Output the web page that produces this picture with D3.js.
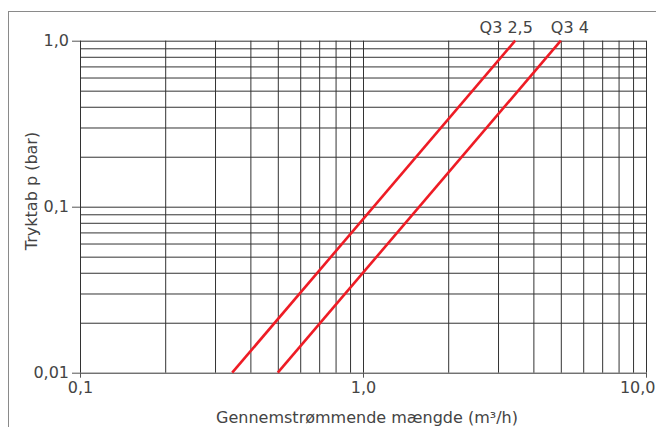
<!DOCTYPE html>
<html>
<head>
<meta charset="utf-8">
<script src="https://cdn.jsdelivr.net/npm/d3@7"></script>
<style>
  body { margin: 0; background: #fff; }
  svg { display: block; font-family: "DejaVu Sans", sans-serif; }
  .grid line { stroke: #333; stroke-width: 1; }
  .grid path { display: none; }
  .axis path { display: none; }
  .axis line { stroke: #555; }
  .axis text { fill: #444; font-size: 16px; font-family: "DejaVu Sans", sans-serif; }
</style>
</head>
<body>
<svg id="chart" width="656" height="427"></svg>
<script>
// data
const seriesNames = ["Q3 2,5", "Q3 4"];
const q3_25 = [[0.345, 0.01], [3.45, 1.0]];
const q3_4 = [[0.5, 0.01], [5.0, 1.0]];
const seriesData = [q3_25, q3_4];

const xGridValues = [0.1, 0.2, 0.3, 0.4, 0.5, 0.6, 0.7, 0.8, 0.9, 1, 2, 3, 4, 5, 6, 7, 8, 9, 10];
const yGridValues = [0.01, 0.02, 0.03, 0.04, 0.05, 0.06, 0.07, 0.08, 0.09,
  0.1, 0.2, 0.3, 0.4, 0.5, 0.6, 0.7, 0.8, 0.9, 1];
const xTickValues = [0.1, 1, 10];
const xTickLabels = ["0,1", "1,0", "10,0"];
const yTickValues = [0.01, 0.1, 1];
const yTickLabels = ["0,01", "0,1", "1,0"];

const xTitle = "Gennemstrømmende mængde (m³/h)";
const yTitle = "Tryktab p (bar)";

// layout
const svg = d3.select("#chart");
const margin = { top: 40.7, left: 80, right: 10, bottom: 54.3 };
const width = 656 - margin.left - margin.right;   // 566
const height = 427 - margin.top - margin.bottom;  // 332

// outer frame (runs off the right / bottom edge)
svg.append("rect")
  .attr("x", 8.5)
  .attr("y", 11.5)
  .attr("width", 700)
  .attr("height", 500)
  .attr("fill", "none")
  .attr("stroke", "#8a8a8a")
  .attr("stroke-width", 1);

const g = svg.append("g")
  .attr("transform", `translate(${margin.left},${margin.top})`);

const x = d3.scaleLog().domain([0.1, 10]).range([0, width]);
const y = d3.scaleLog().domain([0.01, 1]).range([height, 0]);

// grid
g.append("g")
  .attr("class", "grid")
  .attr("transform", `translate(0,${height})`)
  .call(d3.axisBottom(x).tickValues(xGridValues).tickSize(-height).tickFormat(""));

g.append("g")
  .attr("class", "grid")
  .call(d3.axisLeft(y).tickValues(yGridValues).tickSize(-width).tickFormat(""));

// axes
g.append("g")
  .attr("class", "axis")
  .attr("transform", `translate(0,${height})`)
  .call(d3.axisBottom(x)
    .tickValues(xTickValues)
    .tickSize(5)
    .tickPadding(4)
    .tickFormat((d, i) => xTickLabels[i]))
  .selectAll("text")
  .filter((d, i) => i === xTickValues.length - 1)
  .attr("text-anchor", "end")
  .attr("dx", 9);

g.append("g")
  .attr("class", "axis")
  .call(d3.axisLeft(y)
    .tickValues(yTickValues)
    .tickSize(8)
    .tickPadding(3)
    .tickFormat((d, i) => yTickLabels[i]));

// lines
const line = d3.line()
  .x(d => x(d[0]))
  .y(d => y(d[1]));

g.selectAll(".series")
  .data(seriesData)
  .join("path")
  .attr("class", "series")
  .attr("d", line)
  .attr("fill", "none")
  .attr("stroke", "#ee1c25")
  .attr("stroke-width", 2.6);

// series labels above the top end
g.selectAll(".series-label")
  .data(seriesData)
  .join("text")
  .attr("class", "series-label")
  .attr("x", (d, i) => x(d[d.length - 1][0]) + (i === 0 ? -9 : 9))
  .attr("y", -8)
  .attr("text-anchor", "middle")
  .attr("font-size", "16px")
  .attr("fill", "#444")
  .text((d, i) => seriesNames[i]);

// axis titles
g.append("text")
  .attr("x", width / 2 + 4)
  .attr("y", height + 50)
  .attr("text-anchor", "middle")
  .attr("font-size", "16px")
  .attr("fill", "#444")
  .text(xTitle);

g.append("text")
  .attr("transform", "rotate(-90)")
  .attr("x", -(191 - margin.top))
  .attr("y", -43.5)
  .attr("text-anchor", "middle")
  .attr("font-size", "16px")
  .attr("fill", "#444")
  .text(yTitle);
</script>
</body>
</html>
